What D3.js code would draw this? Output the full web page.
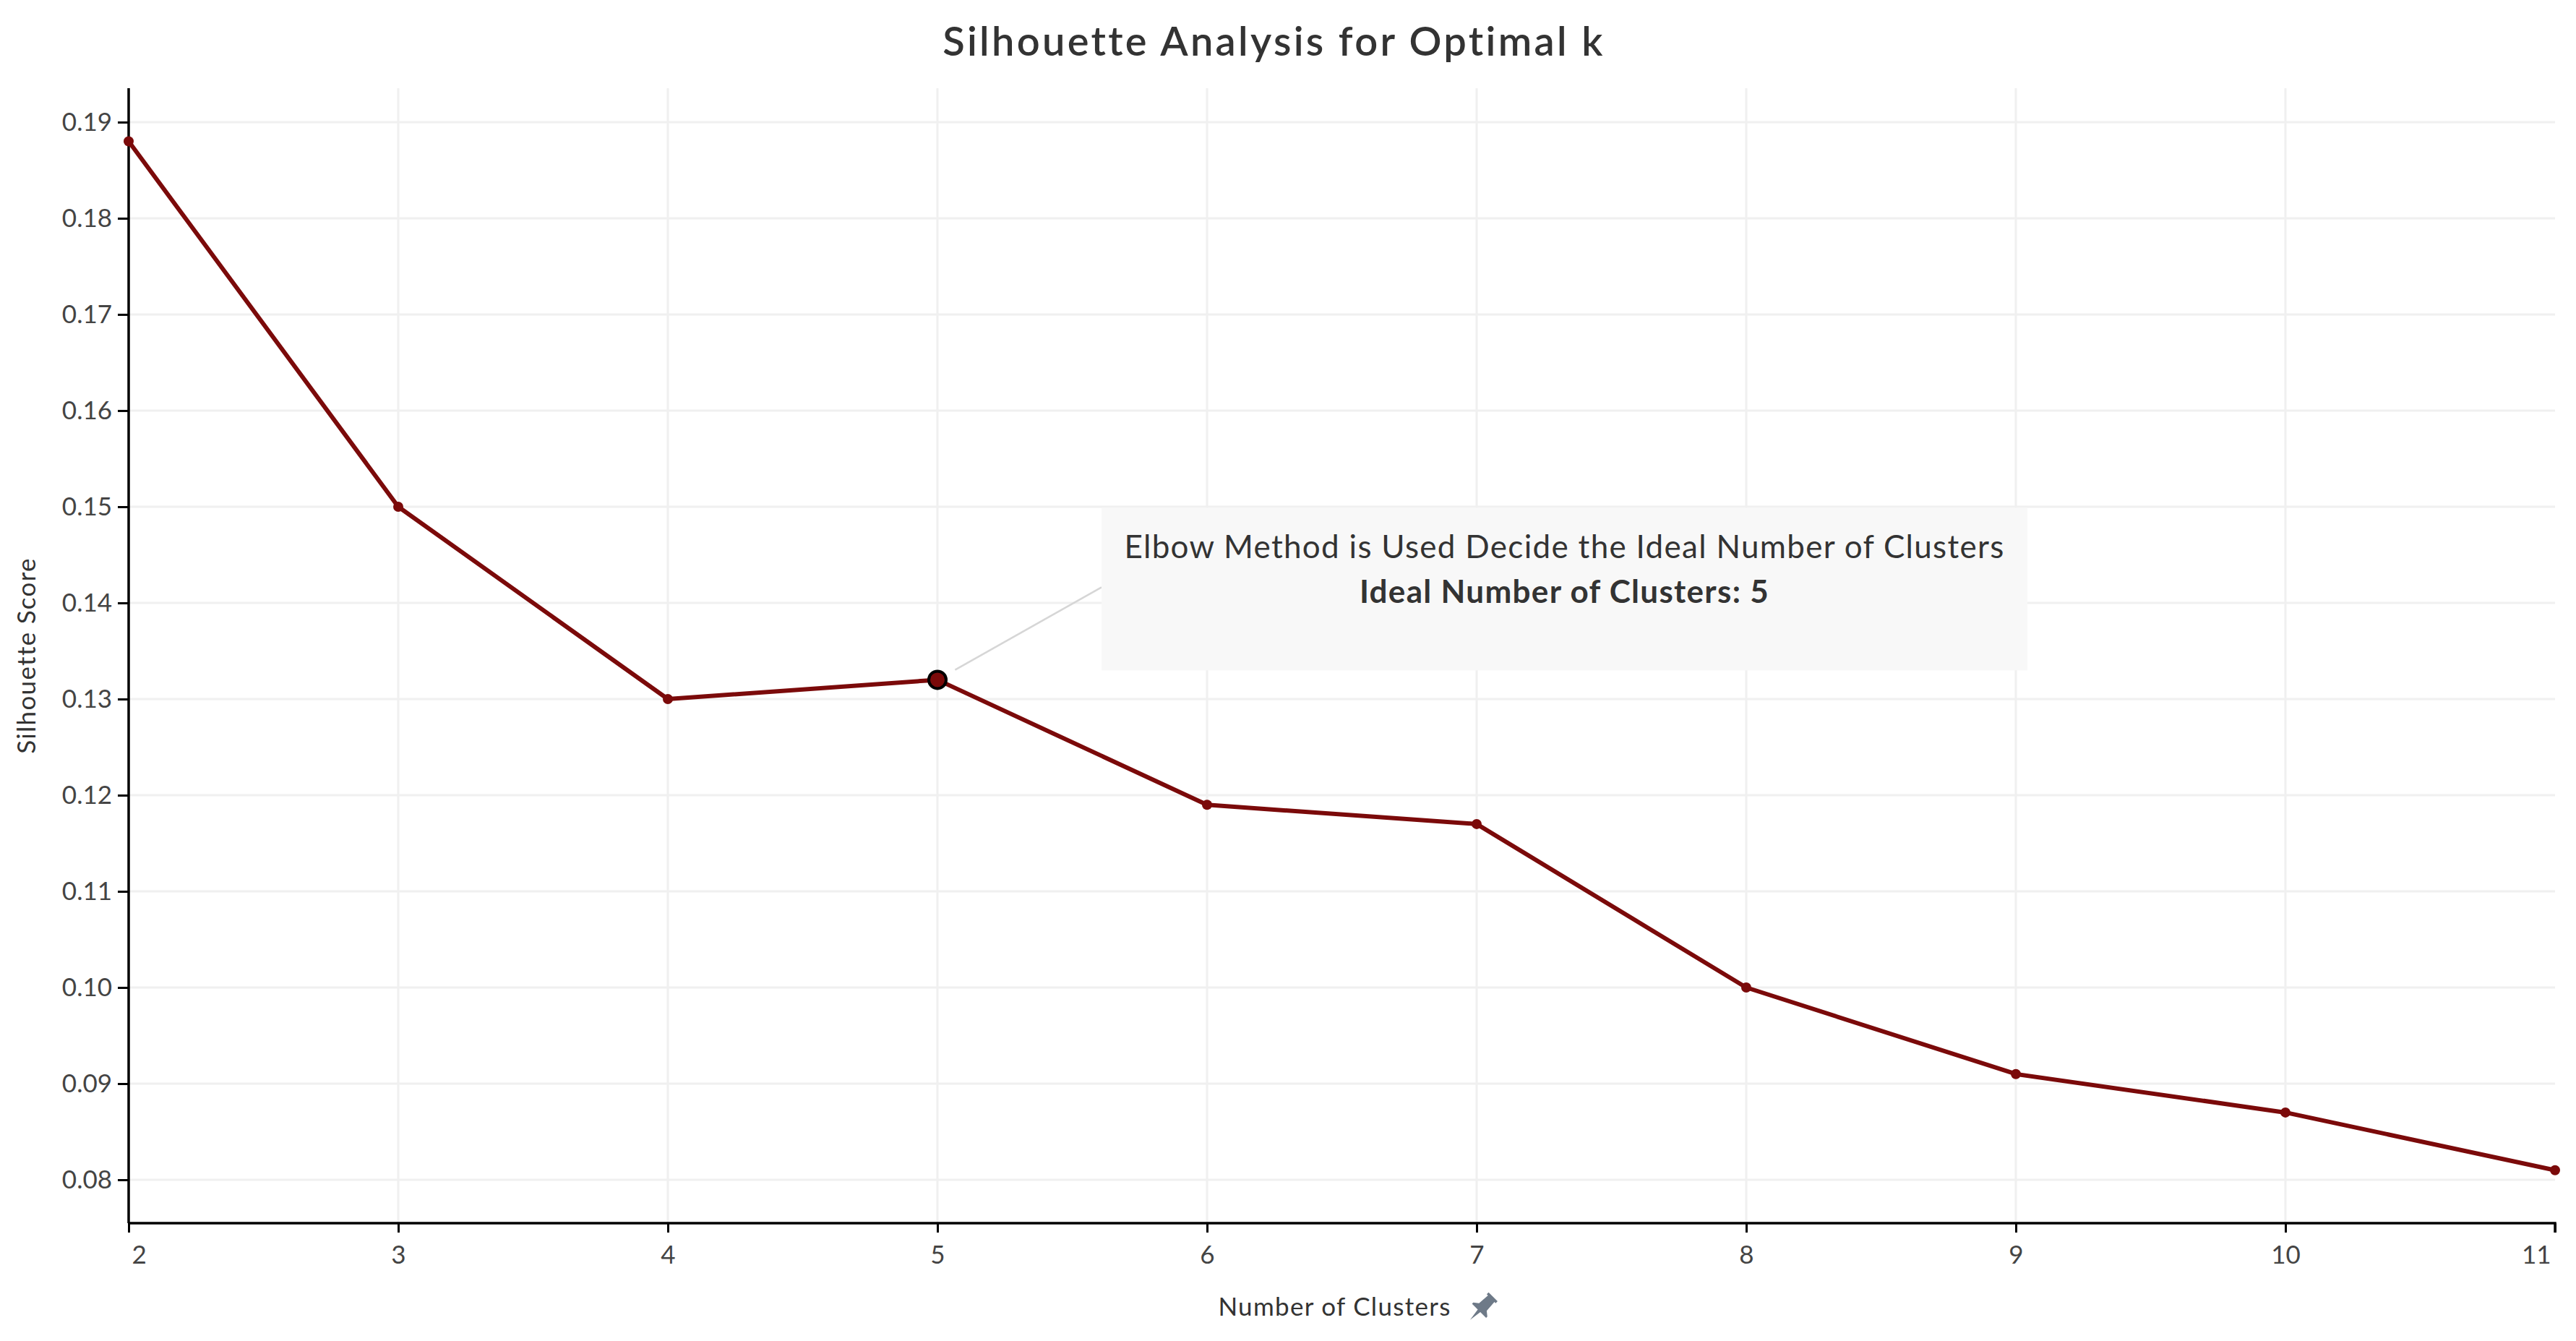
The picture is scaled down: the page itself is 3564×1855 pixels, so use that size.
<!DOCTYPE html>
<html>
<head>
<meta charset="utf-8">
<script src="https://cdn.jsdelivr.net/npm/d3@7"></script>
<style>
  html, body { margin: 0; padding: 0; background: #fff; }
  svg { display: block; font-family: Lato, "Open Sans", sans-serif; }
</style>
</head>
<body>
<div id="chart"></div>
<script>
// Silhouette score per k
var clusters = [2, 3, 4, 5, 6, 7, 8, 9, 10, 11];
var scores   = [0.188, 0.150, 0.130, 0.132, 0.119, 0.117, 0.100, 0.091, 0.087, 0.081];
var yTicks   = [0.08, 0.09, 0.10, 0.11, 0.12, 0.13, 0.14, 0.15, 0.16, 0.17, 0.18, 0.19];
var bestK    = 5;
var noteLines = ['Elbow Method is Used Decide the Ideal Number of Clusters', 'Ideal Number of Clusters: 5'];

var W = 3564, H = 1855;
var m = { top: 122, right: 29, bottom: 163, left: 178 };
var lineCol = '#7b0a0a';

var svg = d3.select('#chart').append('svg')
    .attr('width', W).attr('height', H);

var x = d3.scaleLinear().domain([2, 11]).range([m.left, W - m.right]);
var y = d3.scaleLinear().domain([0.07549, 0.19353]).range([H - m.bottom, m.top]);

var data = clusters.map(function (k, i) { return { k: k, v: scores[i] }; });

// gridlines
var grid = svg.append('g').attr('stroke', '#f0f0f0').attr('stroke-width', 3);
grid.selectAll('line.h').data(yTicks).enter().append('line')
    .attr('x1', m.left).attr('x2', W - m.right)
    .attr('y1', function (d) { return y(d); }).attr('y2', function (d) { return y(d); });
grid.selectAll('line.v').data(clusters.slice(1, -1)).enter().append('line')
    .attr('class', 'v')
    .attr('y1', m.top).attr('y2', H - m.bottom)
    .attr('x1', function (d) { return x(d); }).attr('x2', function (d) { return x(d); });

// axes
var yAxis = svg.append('g')
    .attr('transform', 'translate(' + m.left + ',0)')
    .call(d3.axisLeft(y).tickValues(yTicks).tickFormat(d3.format('.2f')).tickSize(15).tickPadding(8));
var xAxis = svg.append('g')
    .attr('transform', 'translate(0,' + (H - m.bottom) + ')')
    .call(d3.axisBottom(x).tickValues(clusters).tickFormat(d3.format('d')).tickSize(13).tickPadding(18));

[yAxis, xAxis].forEach(function (a) {
    a.select('.domain').attr('stroke', '#000').attr('stroke-width', 3.5);
    a.selectAll('.tick line').attr('stroke', '#000').attr('stroke-width', 3);
    a.selectAll('.tick text')
        .attr('fill', '#444')
        .style('font-family', 'Lato, sans-serif')
        .style('font-size', '35px');
});
yAxis.select('.domain').attr('d', 'M0,' + m.top + 'V' + (H - m.bottom));
xAxis.select('.domain').attr('d', 'M' + m.left + ',0H' + (W - m.right) + 'V13');
// edge labels are pulled inside like Tableau does
xAxis.selectAll('.tick text')
    .attr('text-anchor', function (d) { return d === 2 ? 'start' : d === 11 ? 'end' : 'middle'; })
    .attr('dx', function (d) { return d === 2 ? 4 : d === 11 ? -6 : 0; });

// annotation connector (behind the marks)
var px = x(bestK), py = y(scores[clusters.indexOf(bestK)]);
var box = { x: px + 227, y: py - 238, w: 1281, h: 225 };
var tx = box.x, ty = box.y + 110;
var ang = Math.atan2(ty - py, tx - px);
svg.append('line')
    .attr('x1', px + Math.cos(ang) * 28).attr('y1', py + Math.sin(ang) * 28)
    .attr('x2', tx).attr('y2', ty)
    .attr('stroke', '#d6d6d6').attr('stroke-width', 2.5);

// line + points
svg.append('path').datum(data)
    .attr('fill', 'none')
    .attr('stroke', lineCol)
    .attr('stroke-width', 6)
    .attr('stroke-linejoin', 'round')
    .attr('d', d3.line().x(function (d) { return x(d.k); }).y(function (d) { return y(d.v); }));

svg.selectAll('circle.pt').data(data).enter().append('circle')
    .attr('class', 'pt')
    .attr('cx', function (d) { return x(d.k); })
    .attr('cy', function (d) { return y(d.v); })
    .attr('r', function (d) { return d.k === bestK ? 12 : 7; })
    .attr('fill', lineCol)
    .attr('stroke', function (d) { return d.k === bestK ? '#000' : 'none'; })
    .attr('stroke-width', 4);

// annotation box
svg.append('rect')
    .attr('x', box.x).attr('y', box.y).attr('width', box.w).attr('height', box.h)
    .attr('fill', '#f8f8f8');
svg.append('text')
    .attr('x', box.x + box.w / 2).attr('y', box.y + 70)
    .attr('text-anchor', 'middle').attr('fill', '#333')
    .style('font-size', '44px').style('letter-spacing', '1.3px')
    .text(noteLines[0]);
svg.append('text')
    .attr('x', box.x + box.w / 2).attr('y', box.y + 132)
    .attr('text-anchor', 'middle').attr('fill', '#333')
    .style('font-size', '44px').style('font-weight', 700).style('letter-spacing', '1.3px')
    .text(noteLines[1]);

// title
svg.append('text')
    .attr('x', (m.left + W - m.right) / 2 - 94).attr('y', 77)
    .attr('text-anchor', 'middle').attr('fill', '#333')
    .style('font-size', '56px').style('font-weight', 600).style('letter-spacing', '3.3px')
    .text('Silhouette Analysis for Optimal k');

// axis titles
var xt = svg.append('text')
    .attr('x', (m.left + W - m.right) / 2 - 10).attr('y', 1820)
    .attr('text-anchor', 'middle').attr('fill', '#333')
    .style('font-size', '35px').style('letter-spacing', '1.3px')
    .text('Number of Clusters');
var xtEnd = (m.left + W - m.right) / 2 - 10 + xt.node().getComputedTextLength() / 2;

// little pin icon next to the x title
svg.append('path')
    .attr('transform', 'translate(' + (xtEnd + 44) + ',1808) rotate(45) scale(1.25)')
    .attr('fill', '#6e7a88')
    .attr('d', 'M-7,-16 H7 V-13 H5 L6,0 L11,4 V6 H2 L0,20 L-2,6 H-11 V4 L-6,0 L-5,-13 H-7 Z');

svg.append('text')
    .attr('transform', 'translate(49,' + ((m.top + H - m.bottom) / 2) + ') rotate(-90)')
    .attr('text-anchor', 'middle').attr('fill', '#333')
    .style('font-size', '35px').style('letter-spacing', '1.3px')
    .text('Silhouette Score');
</script>
</body>
</html>
